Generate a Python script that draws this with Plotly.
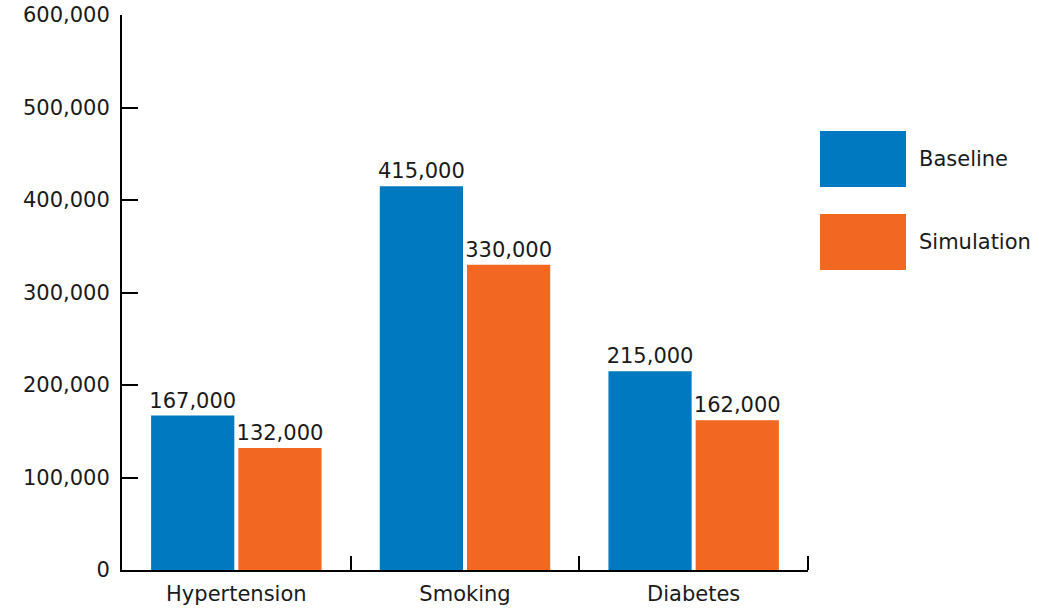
import plotly.graph_objects as go

categories = ["Hypertension", "Smoking", "Diabetes"]
baseline = [167000, 415000, 215000]
simulation = [132000, 330000, 162000]
series_names = ["Baseline", "Simulation"]
colors = ["#0079C1", "#F26722"]

FONT = "DejaVu Sans"
TXT = "#1a1a1a"
fig = go.Figure()
for name, vals, col in zip(series_names, [baseline, simulation], colors):
    fig.add_trace(go.Bar(
        x=categories, y=vals, name=name, marker_color=col, marker_line_width=0,
        text=[f"{v:,}" for v in vals], textposition="outside", cliponaxis=False,
        constraintext="none",
        textfont=dict(family=FONT, size=21, color=TXT),
    ))

fig.update_layout(
    width=1039, height=608,
    margin=dict(l=122, r=231, t=15, b=38),
    paper_bgcolor="white", plot_bgcolor="white",
    barmode="group", bargap=0.237, bargroupgap=0.046,
    showlegend=False,
    font=dict(family=FONT, size=21, color=TXT),
    uniformtext=dict(minsize=21, mode="show"),
)
fig.update_yaxes(
    range=[0, 600000], dtick=100000, tickformat=",",
    showgrid=False, zeroline=False, automargin=False,
    showline=True, linecolor="black", linewidth=2,
    ticks="inside", ticklen=16, tickwidth=2, tickcolor="black",
    ticklabelstandoff=6,
    tickfont=dict(family=FONT, size=21, color=TXT),
)
fig.update_xaxes(
    showgrid=False, showline=True, linecolor="black", linewidth=2, automargin=False,
    ticks="inside", tickson="boundaries", ticklen=14, tickwidth=2, tickcolor="black",
    ticklabelstandoff=4,
    tickfont=dict(family=FONT, size=21, color=TXT),
)
# closing tick at the right end of the category axis
fig.add_shape(type="line", xref="x domain", yref="y domain", x0=1, x1=1, y0=0, y1=14 / 555,
              line=dict(color="black", width=2))

# custom legend
legend_items = [(series_names[0], colors[0], 0.791, 0.690), (series_names[1], colors[1], 0.6414, 0.5405)]
for name, col, y1, y0 in legend_items:
    fig.add_shape(type="rect", xref="paper", yref="paper", x0=1.0175, x1=1.1429, y0=y0, y1=y1,
                  fillcolor=col, line_width=0)
    fig.add_annotation(xref="paper", yref="paper", x=1.159, y=(y0 + y1) / 2, text=name,
                       showarrow=False, xanchor="left", yanchor="middle",
                       font=dict(family=FONT, size=21, color=TXT))

fig.write_html("out.html")
